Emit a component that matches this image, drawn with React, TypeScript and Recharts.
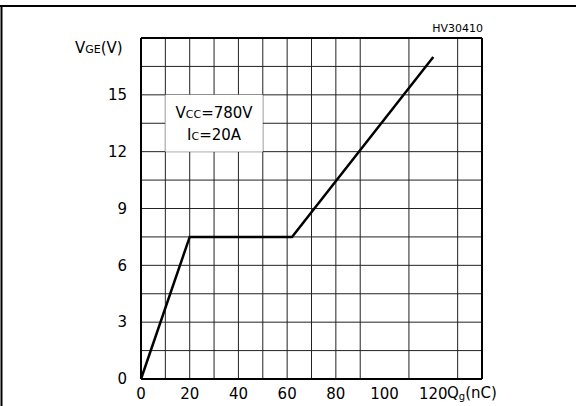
import React from "react";
import {
  LineChart,
  Line,
  XAxis,
  YAxis,
  CartesianGrid,
  ReferenceArea,
  ReferenceLine,
  Customized
} from "recharts";

// gate charge curve Qg (nC) vs VGE (V)
const chargeNc = [0, 20, 62, 120];
const vgeVolts = [0, 7.5, 7.5, 17];

const xTicks = [0, 20, 40, 60, 80, 100, 120];
const yTicks = [0, 3, 6, 9, 12, 15];
const xGrid = [10, 20, 30, 40, 50, 60, 70, 80, 90, 100, 110, 120, 130];
const yGrid = [1.5, 3, 4.5, 6, 7.5, 9, 10.5, 12, 13.5, 15, 16.5];

const data = chargeNc.map((q, i) => ({ q, v: vgeVolts[i] }));

const FONT = "'DejaVu Sans', sans-serif";

const NoteBox = (props: any) => {
  const { viewBox } = props;
  if (!viewBox) return null;
  const cx = viewBox.x + viewBox.width / 2;
  const cy = viewBox.y + viewBox.height / 2;
  return (
    <g fontFamily={FONT} fontSize={15} fill="#000">
      <text x={cx} y={cy - 5} textAnchor="middle">
        V<tspan fontSize={11}>CC</tspan>=780V
      </text>
      <text x={cx} y={cy + 17} textAnchor="middle">
        I<tspan fontSize={11}>C</tspan>=20A
      </text>
    </g>
  );
};

const Extras = () => (
  <g fontFamily={FONT} fill="#000">
    <text x={75} y={53} fontSize={15}>
      V<tspan fontSize={11}>GE</tspan>(V)
    </text>
    <text x={447} y={398} fontSize={15}>
      Q<tspan fontSize={10} dy={2}>g</tspan>
      <tspan dy={-2}>(nC)</tspan>
    </text>
    <text x={483} y={32} fontSize={11} textAnchor="end">
      HV30410
    </text>
    <line x1={1.5} y1={6} x2={1.5} y2={406} stroke="#000" strokeWidth={2} />
    <line x1={0} y1={6} x2={576} y2={6} stroke="#000" strokeWidth={2} />
  </g>
);

export default function App() {
  return (
    <div style={{ position: "absolute", left: 0, top: 0, background: "#fff" }}>
      <LineChart
        width={576}
        height={406}
        data={data}
        margin={{ top: 38, right: 94, left: 101, bottom: 0 }}
      >
        <CartesianGrid
          horizontalValues={yGrid}
          verticalValues={xGrid}
          stroke="#222"
          strokeWidth={1}
        />
        <XAxis
          dataKey="q"
          type="number"
          domain={[0, 140]}
          ticks={xTicks}
          height={27}
          tickLine={false}
          axisLine={{ stroke: "#000", strokeWidth: 2 }}
          tick={{ fontSize: 15, fill: "#000", fontFamily: FONT }}
          tickMargin={3}
        />
        <YAxis
          type="number"
          domain={[0, 18]}
          ticks={yTicks}
          width={40}
          tickLine={false}
          axisLine={{ stroke: "#000", strokeWidth: 2 }}
          tick={{ fontSize: 15, fill: "#000", fontFamily: FONT }}
          tickMargin={8}
        />
        <ReferenceLine y={18} stroke="#000" strokeWidth={2} />
        <ReferenceLine x={140} stroke="#000" strokeWidth={2} />
        <ReferenceArea
          x1={10}
          x2={50}
          y1={12}
          y2={15}
          fill="#fff"
          fillOpacity={1}
          stroke="none"
          label={<NoteBox />}
        />
        <Line
          dataKey="v"
          stroke="#000"
          strokeWidth={2.5}
          dot={false}
          isAnimationActive={false}
        />
        <Customized component={Extras} />
      </LineChart>
    </div>
  );
}
